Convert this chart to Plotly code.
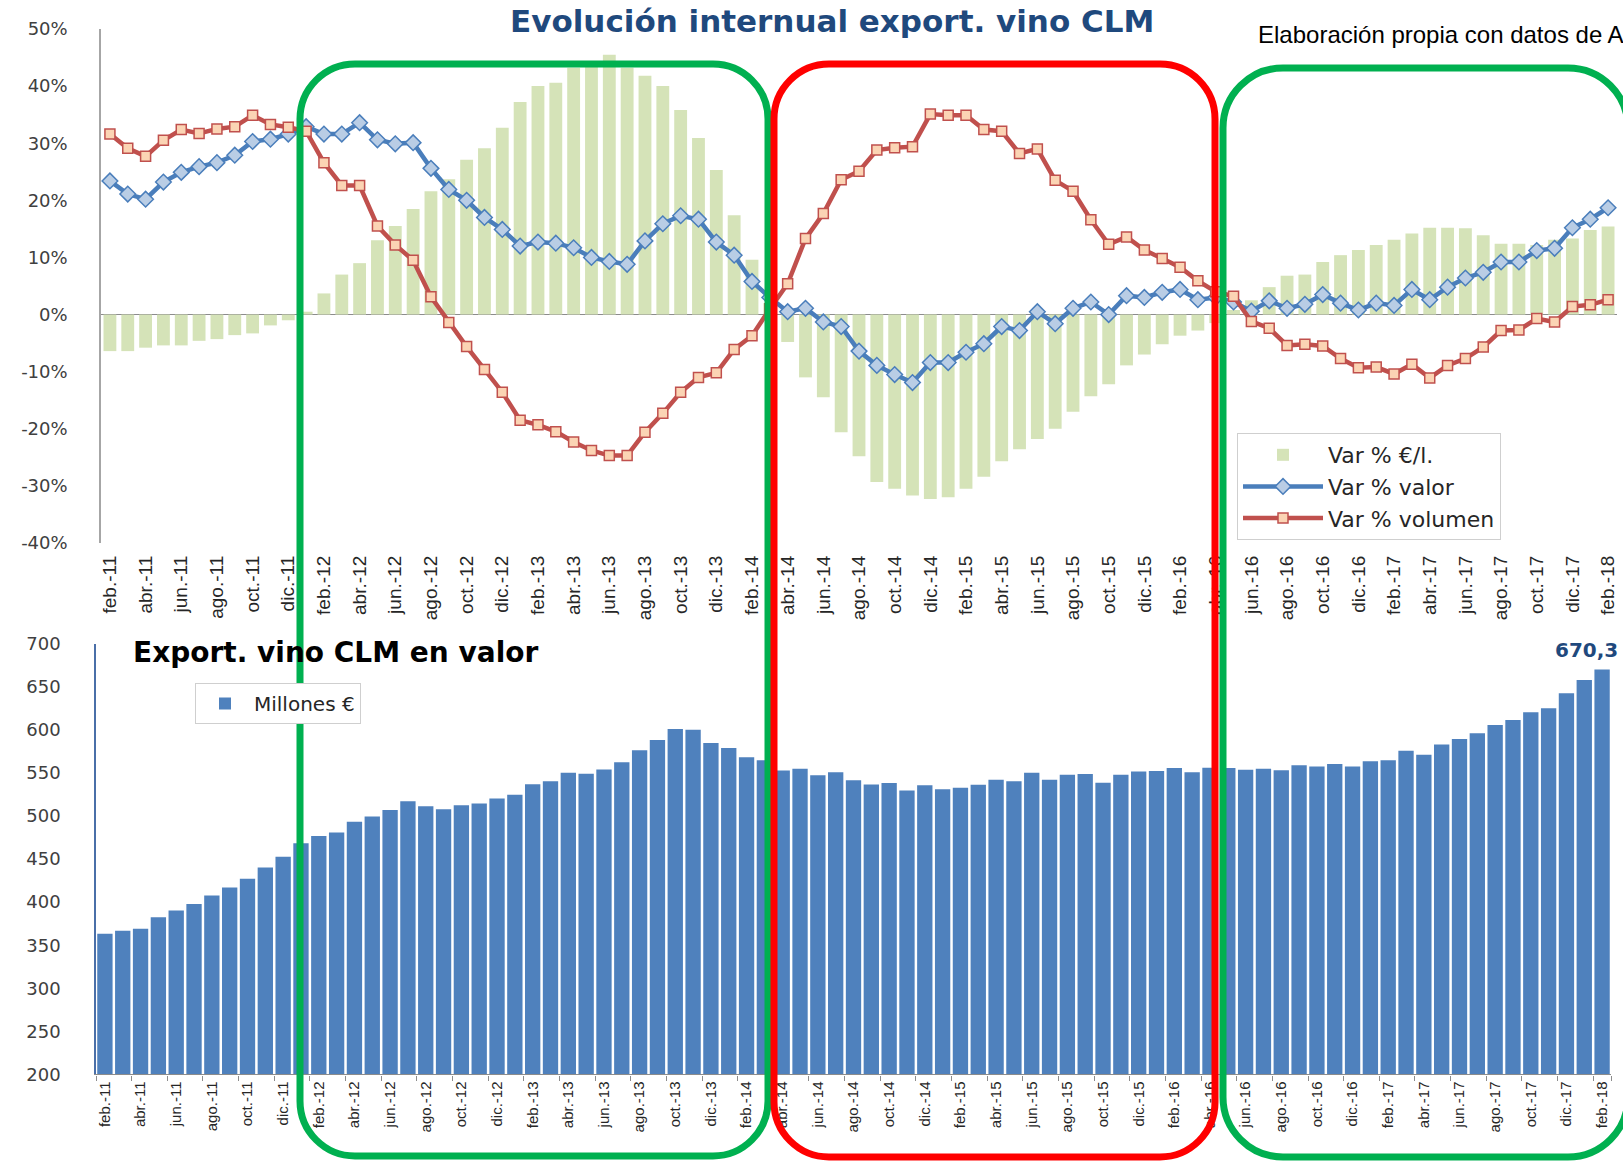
import plotly.graph_objects as go

# ---------------- data ----------------
MONTH_ABBR = ["ene", "feb", "mar", "abr", "may", "jun", "jul", "ago", "sep", "oct", "nov", "dic"]
months = []
for year in range(2011, 2019):
    for mi, m in enumerate(MONTH_ABBR):
        if (year == 2011 and mi < 1) or (year == 2018 and mi > 1):
            continue
        months.append(f"{m}.-{str(year)[2:]}")

tick_labels = months[::2]

var_eur_litro = [
    -6.4, -6.4, -5.8, -5.4, -5.4, -4.6, -4.3, -3.6, -3.3, -1.9, -1.0, 0.5,
    3.7, 7.0, 9.0, 13.0, 15.5, 18.5, 21.6, 23.7, 27.1, 29.1, 32.7, 37.2,
    40.0, 40.6, 43.2, 43.5, 45.5, 43.2, 41.8, 40.0, 35.8, 30.9, 25.3, 17.4,
    9.6, 2.0, -4.8, -11.0, -14.5, -20.6, -24.8, -29.3, -30.5, -31.7, -32.3, -32.0,
    -30.5, -28.4, -25.7, -23.6, -21.8, -20.0, -17.0, -14.3, -12.2, -8.9, -7.0, -5.2,
    -3.7, -2.8, -1.5, 0.8, 2.5, 4.8, 6.8, 7.0, 9.2, 10.4, 11.3, 12.2,
    13.1, 14.2, 15.2, 15.2, 15.1, 13.9, 12.4, 12.4, 12.2, 13.1, 13.3, 14.8,
    15.4,
]

var_valor = [
    23.4, 21.1, 20.2, 23.2, 24.9, 25.9, 26.6, 27.9, 30.3, 30.7, 31.6, 32.9,
    31.6, 31.6, 33.6, 30.6, 29.9, 30.1, 25.6, 21.9, 20.0, 17.0, 14.9, 12.0,
    12.7, 12.5, 11.7, 10.0, 9.3, 8.8, 12.9, 15.9, 17.3, 16.7, 12.7, 10.4,
    5.8, 3.0, 0.5, 1.1, -1.3, -2.1, -6.4, -8.9, -10.5, -11.9, -8.4, -8.4,
    -6.6, -5.1, -2.1, -2.8, 0.5, -1.6, 1.1, 2.2, 0.0, 3.3, 3.0, 3.9,
    4.4, 2.6, 3.0, 2.2, 0.6, 2.4, 1.1, 1.8, 3.5, 2.0, 0.8, 2.0,
    1.6, 4.4, 2.6, 4.8, 6.4, 7.4, 9.2, 9.2, 11.2, 11.6, 15.2, 16.7,
    18.7,
]

var_volumen = [
    31.6, 29.1, 27.7, 30.5, 32.4, 31.7, 32.5, 32.9, 34.9, 33.3, 32.8, 32.1,
    26.6, 22.6, 22.6, 15.5, 12.2, 9.5, 3.1, -1.4, -5.6, -9.6, -13.6, -18.5,
    -19.3, -20.5, -22.3, -23.8, -24.7, -24.7, -20.6, -17.3, -13.6, -11.0, -10.2, -6.1,
    -3.7, 1.0, 5.4, 13.3, 17.7, 23.6, 25.1, 28.8, 29.2, 29.4, 35.1, 34.9,
    34.9, 32.4, 32.1, 28.2, 29.0, 23.5, 21.6, 16.6, 12.3, 13.6, 11.3, 9.8,
    8.3, 5.9, 4.0, 3.2, -1.2, -2.4, -5.4, -5.2, -5.5, -7.7, -9.3, -9.2,
    -10.4, -8.7, -11.1, -8.9, -7.7, -5.7, -2.8, -2.7, -0.7, -1.3, 1.4, 1.7,
    2.6,
]

export_millones = [
    363.3, 366.7, 369.2, 382.4, 390.3, 397.8, 407.8, 416.9, 427.3, 440.2, 452.7, 468.5,
    476.8, 480.9, 493.4, 499.6, 507.1, 517.1, 511.3, 508.0, 512.5, 514.6, 520.4, 524.6,
    537.0, 540.4, 550.4, 549.1, 554.1, 562.4, 576.5, 588.2, 601.1, 600.2, 584.8, 579.0,
    568.2, 564.9, 552.8, 554.9, 547.4, 550.8, 541.6, 536.6, 538.3, 529.6, 535.8, 531.2,
    532.9, 536.2, 542.0, 540.4, 550.4, 542.0, 547.9, 548.7, 538.7, 547.9, 551.6, 552.4,
    555.8, 550.8, 556.2, 555.8, 553.7, 554.9, 553.3, 559.1, 557.4, 560.3, 557.4, 563.7,
    564.9, 575.7, 571.1, 583.2, 589.4, 596.1, 605.6, 611.4, 620.6, 625.2, 642.6, 658.0,
    670.3,
]

pct_ticks = [-40, -30, -20, -10, 0, 10, 20, 30, 40, 50]
pct_ticktext = [f"{v}%" for v in pct_ticks]
eur_ticks = [200, 250, 300, 350, 400, 450, 500, 550, 600, 650, 700]

# ---------------- layout helpers ----------------
W, H = 1623, 1161


def px(x):
    return x / W


def py(y):
    return 1 - y / H


def rounded_rect(x0, y0, x1, y1, r):
    k = 0.5523 * r
    pts = [
        f"M {px(x0 + r)},{py(y0)}",
        f"L {px(x1 - r)},{py(y0)}",
        f"C {px(x1 - r + k)},{py(y0)} {px(x1)},{py(y0 + r - k)} {px(x1)},{py(y0 + r)}",
        f"L {px(x1)},{py(y1 - r)}",
        f"C {px(x1)},{py(y1 - r + k)} {px(x1 - r + k)},{py(y1)} {px(x1 - r)},{py(y1)}",
        f"L {px(x0 + r)},{py(y1)}",
        f"C {px(x0 + r - k)},{py(y1)} {px(x0)},{py(y1 - r + k)} {px(x0)},{py(y1 - r)}",
        f"L {px(x0)},{py(y0 + r)}",
        f"C {px(x0)},{py(y0 + r - k)} {px(x0 + r - k)},{py(y0)} {px(x0 + r)},{py(y0)}",
        "Z",
    ]
    return " ".join(pts)


fig = go.Figure()

fig.add_trace(go.Bar(
    x=months, y=var_eur_litro, name="Var % €/l.",
    marker=dict(color="#d5e3b8", line=dict(width=0)),
    width=0.72, xaxis="x", yaxis="y", legend="legend",
))
fig.add_trace(go.Scatter(
    x=months, y=var_valor, name="Var % valor", mode="lines+markers",
    line=dict(color="#4a7ebb", width=4.5),
    marker=dict(symbol="diamond", size=12, color="#b9cde5",
                line=dict(color="#4a7ebb", width=1.5)),
    xaxis="x", yaxis="y", legend="legend",
))
fig.add_trace(go.Scatter(
    x=months, y=var_volumen, name="Var % volumen", mode="lines+markers",
    line=dict(color="#c0504d", width=4.5),
    marker=dict(symbol="square", size=10, color="#fbd4b4",
                line=dict(color="#c0504d", width=1.5)),
    xaxis="x", yaxis="y", legend="legend",
))
fig.add_trace(go.Bar(
    x=months, y=export_millones, name="Millones €",
    marker=dict(color="#4f81bd", line=dict(width=0)),
    width=0.86, xaxis="x2", yaxis="y2", legend="legend2",
))

tick_font_x_top = dict(family="Liberation Sans, Arial, sans-serif", size=19, color="#262626")
tick_font_x_bot = dict(family="Liberation Sans, Arial, sans-serif", size=15, color="#262626")

fig.update_layout(
    width=W, height=H, autosize=False,
    margin=dict(l=0, r=0, t=0, b=0, pad=0, autoexpand=False),
    paper_bgcolor="white", plot_bgcolor="white",
    showlegend=True,
    xaxis=dict(
        domain=[px(101), px(1617)], anchor="y", type="category",
        range=[-0.5, len(months) - 0.5], automargin=False,
        tickmode="array", tickvals=tick_labels, ticktext=tick_labels,
        tickangle=-90, tickfont=tick_font_x_top,
        showline=False, ticks="", showgrid=False, zeroline=False,
        ticklabelstandoff=8,
    ),
    yaxis=dict(
        domain=[py(543), py(29)], anchor="x", range=[-40, 50], automargin=False,
        tickmode="array", tickvals=pct_ticks, ticktext=pct_ticktext,
        tickfont=dict(family="DejaVu Sans", size=18, color="#404040"),
        showline=True, linecolor="#a6a6a6", linewidth=1.5,
        zeroline=True, zerolinecolor="#8c8c8c", zerolinewidth=1.2,
        showgrid=False, ticks="", ticklabelstandoff=28,
    ),
    xaxis2=dict(
        domain=[px(96), px(1611)], anchor="y2", type="category",
        range=[-0.5, len(months) - 0.5], automargin=False,
        tickmode="array", tickvals=tick_labels, ticktext=tick_labels,
        tickangle=-90, tickfont=tick_font_x_bot,
        showline=True, linecolor="#8c8c8c", linewidth=1.2,
        ticks="outside", ticklen=5, tickcolor="#8c8c8c", tickson="boundaries",
        showgrid=False, zeroline=False,
    ),
    yaxis2=dict(
        domain=[py(1074.4), py(643.8)], anchor="x2", range=[200, 700], automargin=False,
        tickmode="array", tickvals=eur_ticks,
        tickfont=dict(family="DejaVu Sans", size=18, color="#404040"),
        showline=True, linecolor="#4a6fa8", linewidth=1.5,
        showgrid=False, zeroline=False, ticks="", ticklabelstandoff=30,
    ),
    legend=dict(
        x=px(1237), y=py(433), xanchor="left", yanchor="top",
        bgcolor="white", bordercolor="#cfcfcf", borderwidth=1,
        font=dict(family="DejaVu Sans", size=22, color="#262626"),
        itemwidth=80, tracegroupgap=0,
    ),
    legend2=dict(
        x=px(195), y=py(683), xanchor="left", yanchor="top",
        bgcolor="white", bordercolor="#cfcfcf", borderwidth=1,
        font=dict(family="DejaVu Sans", size=20, color="#262626"),
        itemwidth=48,
    ),
    annotations=[
        dict(text="Evolución internual export. vino CLM", xref="paper", yref="paper",
             x=px(832), y=py(21), xanchor="center", yanchor="middle", showarrow=False,
             font=dict(family="DejaVu Sans", size=31, color="#1f497d", weight="bold")),
        dict(text="Elaboración propia con datos de A", xref="paper", yref="paper",
             x=px(1256), y=py(35), xanchor="left", yanchor="middle", showarrow=False,
             font=dict(family="Liberation Sans, Arial", size=24, color="#000000")),
        dict(text="Export. vino CLM en valor", xref="paper", yref="paper",
             x=px(131), y=py(652), xanchor="left", yanchor="middle", showarrow=False,
             font=dict(family="DejaVu Sans", size=28, color="#000000", weight="bold")),
        dict(text=f"{export_millones[-1]:.1f}".replace(".", ","), xref="x2", yref="y2",
             x=months[-1], y=export_millones[-1], xanchor="left", yanchor="bottom",
             xshift=-49, yshift=5, showarrow=False,
             font=dict(family="DejaVu Sans", size=20, color="#1f497d", weight="bold")),
    ],
    shapes=[
        dict(type="path", xref="paper", yref="paper", layer="above",
             path=rounded_rect(300, 64, 768, 1156, 55),
             line=dict(color="#00b050", width=7)),
        dict(type="path", xref="paper", yref="paper", layer="above",
             path=rounded_rect(774, 64, 1215, 1157, 55),
             line=dict(color="#ff0000", width=7)),
        dict(type="path", xref="paper", yref="paper", layer="above",
             path=rounded_rect(1223, 68, 1628, 1157, 60),
             line=dict(color="#00b050", width=7)),
    ],
)

fig.write_html(
    "out.html",
    config={"displayModeBar": False},
    post_script="document.body.style.margin='0';document.body.style.overflow='hidden';",
)
